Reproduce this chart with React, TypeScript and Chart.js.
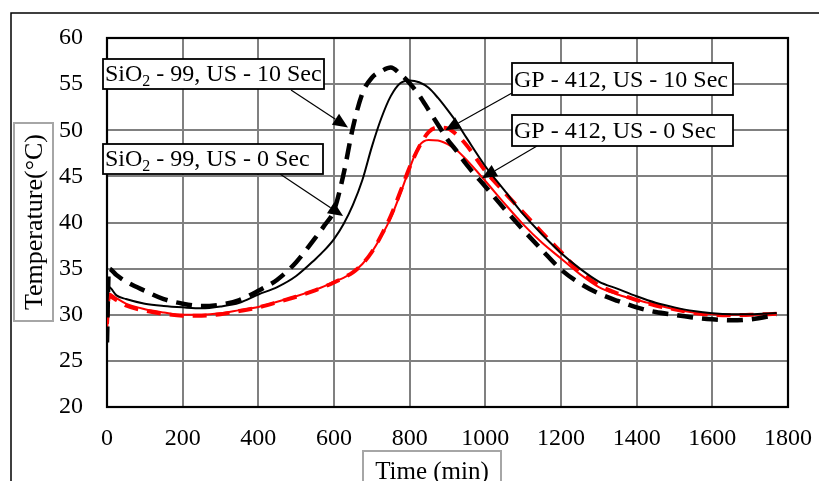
import React, { useEffect, useRef } from "react";
import { Chart, registerables } from "chart.js";

Chart.register(...registerables);

// ---- data ----
const times = [0, 5, 25, 50, 100, 150, 200, 250, 300, 350, 400, 450, 500, 550, 575, 600, 625, 650, 675, 700, 725, 750, 775, 800, 825, 850, 875, 900, 925, 950, 1000, 1050, 1100, 1150, 1200, 1250, 1300, 1350, 1400, 1450, 1500, 1550, 1600, 1650, 1700, 1770];

// black dashed
const sio2Us10 = [27.0, 35.0, 34.3, 33.6, 32.6, 31.7, 31.2, 30.95, 31.1, 31.6, 32.6, 33.8, 35.7, 38.3, 39.7, 41.3, 45.2, 50.3, 54.0, 55.7, 56.4, 56.8, 56.1, 55.1, 53.8, 52.2, 50.6, 49.0, 47.7, 46.3, 43.9, 41.5, 39.2, 37.0, 34.9, 33.4, 32.3, 31.5, 30.8, 30.3, 30.0, 29.7, 29.5, 29.4, 29.5, 30.0];
// black solid
const sio2Us0 = [30.5, 33.0, 32.1, 31.7, 31.2, 30.95, 30.8, 30.7, 30.9, 31.3, 32.2, 33.0, 34.2, 36.0, 37.0, 38.2, 39.8, 41.9, 44.6, 48.2, 51.3, 53.7, 55.1, 55.4, 55.2, 54.6, 53.5, 52.2, 50.8, 49.2, 46.1, 43.5, 40.9, 38.7, 36.7, 35.0, 33.6, 32.8, 32.0, 31.3, 30.8, 30.4, 30.15, 30.05, 30.05, 30.2];
// red dashed
const gp412Us10 = [29.0, 32.0, 31.6, 31.0, 30.45, 30.1, 29.9, 29.9, 30.05, 30.4, 30.8, 31.35, 31.95, 32.65, 33.05, 33.5, 34.0, 34.6, 35.5, 36.8, 38.6, 40.7, 43.3, 46.0, 48.2, 49.8, 50.3, 50.2, 49.5, 48.4, 45.6, 43.3, 41.1, 38.9, 36.8, 34.7, 33.2, 32.3, 31.6, 31.0, 30.6, 30.2, 30.0, 29.95, 30.0, 30.1];
// red solid
const gp412Us0 = [28.0, 32.3, 31.8, 31.2, 30.6, 30.25, 30.0, 30.0, 30.15, 30.5, 30.85, 31.4, 32.0, 32.7, 33.1, 33.6, 34.0, 34.6, 35.5, 36.8, 38.5, 40.5, 43.1, 45.9, 48.3, 48.95, 48.9, 48.5, 47.8, 46.8, 44.5, 42.1, 39.8, 37.8, 36.1, 34.4, 33.0, 32.2, 31.6, 31.1, 30.6, 30.25, 30.05, 30.0, 30.0, 30.1];

const xMin = 0, xMax = 1800, xStep = 200;
const yMin = 20, yMax = 60, yStep = 5;

const xTitle = "Time (min)";
const yTitle = "Temperature(°C)";

// annotation labels: text parts (sub = subscript), box in px, arrow tip in data coords
const labels = [
  { parts: [{ t: "SiO" }, { t: "2", sub: true }, { t: " - 99, US - 10 Sec" }], box: [103, 59, 221, 30], from: [291, 90], tip: [637, 50.3] },
  { parts: [{ t: "SiO" }, { t: "2", sub: true }, { t: " - 99, US - 0 Sec" }], box: [103, 144, 220, 30], from: [280, 174], tip: [624, 40.7] },
  { parts: [{ t: "GP - 412, US - 10 Sec" }], box: [512, 63, 221, 32], from: [512, 93], tip: [894, 50.0] },
  { parts: [{ t: "GP - 412, US - 0 Sec" }], box: [512, 115, 221, 31], from: [537, 146], tip: [991, 44.8] },
];

const FONT = "'Liberation Serif', 'Times New Roman', serif";

const toPts = (vals: number[]) => times.map((t, i) => ({ x: t, y: vals[i] }));

function drawArrow(ctx: CanvasRenderingContext2D, x0: number, y0: number, x1: number, y1: number) {
  const ang = Math.atan2(y1 - y0, x1 - x0);
  const len = 15, half = 6.5;
  const bx = x1 - len * Math.cos(ang), by = y1 - len * Math.sin(ang);
  ctx.beginPath();
  ctx.moveTo(x0, y0);
  ctx.lineTo(bx, by);
  ctx.strokeStyle = "#000";
  ctx.lineWidth = 1.2;
  ctx.stroke();
  ctx.beginPath();
  ctx.moveTo(x1, y1);
  ctx.lineTo(bx + half * Math.sin(ang), by - half * Math.cos(ang));
  ctx.lineTo(bx - half * Math.sin(ang), by + half * Math.cos(ang));
  ctx.closePath();
  ctx.fillStyle = "#000";
  ctx.fill();
}

const overlay = {
  id: "overlay",
  beforeDatasetsDraw(chart: any) {
    const { ctx, chartArea } = chart;
    const { left, top, right, bottom } = chartArea;
    ctx.save();
    ctx.strokeStyle = "#000";
    ctx.lineWidth = 2.2;
    ctx.strokeRect(left, top, right - left, bottom - top);
    ctx.restore();
  },
  afterDraw(chart: any) {
    const { ctx } = chart;
    const xs = chart.scales.x, ys = chart.scales.y;
    ctx.save();
    // outer frame
    ctx.strokeStyle = "#000";
    ctx.lineWidth = 1.5;
    ctx.strokeRect(11, 13, 900, 600);

    // y title box
    ctx.strokeStyle = "#a6a6a6";
    ctx.lineWidth = 2;
    ctx.fillStyle = "#fff";
    ctx.fillRect(14, 123, 39, 198);
    ctx.strokeRect(14, 123, 39, 198);
    ctx.save();
    ctx.translate(34, 222);
    ctx.rotate(-Math.PI / 2);
    ctx.fillStyle = "#000";
    ctx.font = `26px ${FONT}`;
    ctx.textAlign = "center";
    ctx.textBaseline = "middle";
    ctx.fillText(yTitle, 0, 1);
    ctx.restore();

    // x title box
    ctx.fillStyle = "#fff";
    ctx.fillRect(363, 451, 138, 60);
    ctx.strokeStyle = "#a6a6a6";
    ctx.strokeRect(363, 451, 138, 60);
    ctx.fillStyle = "#000";
    ctx.font = `25px ${FONT}`;
    ctx.textAlign = "center";
    ctx.textBaseline = "alphabetic";
    ctx.fillText(xTitle, 432, 479);

    // annotations
    for (const lab of labels) {
      const [bx, by, bw, bh] = lab.box;
      const tx = xs.getPixelForValue(lab.tip[0]);
      const ty = ys.getPixelForValue(lab.tip[1]);
      drawArrow(ctx, lab.from[0], lab.from[1], tx, ty);
      ctx.fillStyle = "#fff";
      ctx.fillRect(bx, by, bw, bh);
      ctx.strokeStyle = "#000";
      ctx.lineWidth = 1.8;
      ctx.strokeRect(bx, by, bw, bh);
      let cx = bx + 2;
      const base = by + bh - 8;
      ctx.fillStyle = "#000";
      ctx.textAlign = "left";
      ctx.textBaseline = "alphabetic";
      for (const p of lab.parts as any[]) {
        if (p.sub) {
          ctx.font = `16px ${FONT}`;
          ctx.fillText(p.t, cx, base + 5);
        } else {
          ctx.font = `24px ${FONT}`;
          ctx.fillText(p.t, cx, base);
        }
        cx += ctx.measureText(p.t).width;
      }
    }
    ctx.restore();
  },
};

export default function App() {
  const ref = useRef<HTMLCanvasElement | null>(null);
  useEffect(() => {
    if (!ref.current) return;
    const chart = new Chart(ref.current, {
      type: "line",
      data: {
        datasets: [
          {
            label: "SiO2 - 99, US - 10 Sec",
            data: toPts(sio2Us10),
            borderColor: "#000",
            borderWidth: 4.5,
            borderDash: [16, 9],
            pointRadius: 0,
            cubicInterpolationMode: "monotone",
            fill: false,
          },
          {
            label: "SiO2 - 99, US - 0 Sec",
            data: toPts(sio2Us0),
            borderColor: "#000",
            borderWidth: 2,
            pointRadius: 0,
            cubicInterpolationMode: "monotone",
            fill: false,
          },
          {
            label: "GP - 412, US - 10 Sec",
            data: toPts(gp412Us10),
            borderColor: "#ff0000",
            borderWidth: 4,
            borderDash: [14, 9],
            pointRadius: 0,
            cubicInterpolationMode: "monotone",
            fill: false,
          },
          {
            label: "GP - 412, US - 0 Sec",
            data: toPts(gp412Us0),
            borderColor: "#ff0000",
            borderWidth: 2,
            pointRadius: 0,
            cubicInterpolationMode: "monotone",
            fill: false,
          },
        ],
      },
      options: {
        animation: false,
        responsive: false,
        devicePixelRatio: 1,
        layout: { autoPadding: false, padding: { left: 0, right: 31, top: 38, bottom: 0 } },
        plugins: { legend: { display: false }, tooltip: { enabled: false } },
        scales: {
          x: {
            type: "linear",
            min: xMin,
            max: xMax,
            ticks: { stepSize: xStep, padding: 17, color: "#000", font: { family: FONT, size: 24 }, maxRotation: 0, callback: (v: any) => String(v) },
            grid: { color: "#808080", lineWidth: 2, drawTicks: false },
            border: { display: false },
            afterFit: (s: any) => { s.height = 74; s.paddingRight = 0; s.paddingLeft = 0; },
          },
          y: {
            type: "linear",
            min: yMin,
            max: yMax,
            ticks: { stepSize: yStep, padding: 24, color: "#000", font: { family: FONT, size: 24 }, callback: (v: any) => String(v) },
            grid: { color: "#808080", lineWidth: 2, drawTicks: false },
            border: { display: false },
            afterFit: (s: any) => { s.width = 107; s.paddingTop = 0; s.paddingBottom = 0; },
          },
        },
      },
      plugins: [overlay],
    } as any);
    return () => chart.destroy();
  }, []);
  return (
    <div style={{ position: "fixed", left: 0, top: 0, width: 819, height: 481, background: "#fff" }}>
      <canvas ref={ref} width={819} height={481} style={{ display: "block", width: 819, height: 481 }} />
    </div>
  );
}
